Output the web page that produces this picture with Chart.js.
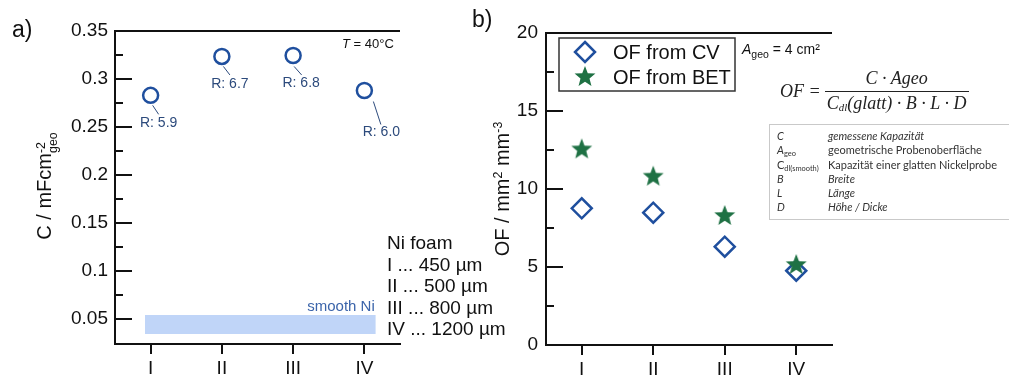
<!DOCTYPE html>
<html>
<head>
<meta charset="utf-8">
<script src="https://cdn.jsdelivr.net/npm/chart.js@4.4.1/dist/chart.umd.min.js"></script>
<style>
  html,body{margin:0;padding:0;background:#fff;}
  #wrap{position:relative;width:1009px;height:378px;overflow:hidden;font-family:"Liberation Sans",Arial,sans-serif;color:#111;}
  canvas{position:absolute;left:0;top:0;}
  .t{position:absolute;white-space:nowrap;line-height:1;}
  .ytitle{position:absolute;white-space:nowrap;font-size:20px;line-height:1;transform:translate(-50%,-50%) rotate(-90deg);}
  .ss{display:inline-block;font-size:0.62em;line-height:0.95em;vertical-align:-0.5em;text-align:left;}
  .ss span{display:block;}
  #nilist{position:absolute;left:387px;top:232px;font-size:19px;line-height:21.5px;white-space:nowrap;}
  #frac{position:absolute;left:780px;top:68px;display:flex;align-items:center;font-family:"Liberation Serif",serif;font-style:italic;font-size:18px;color:#222;}
  #frac .fr{display:flex;flex-direction:column;align-items:center;margin-left:4px;}
  #frac .num{padding:0 2px 2px 2px;border-bottom:1.3px solid #222;text-align:center;width:140px;}
  #frac .den{padding-top:1px;}
  #frac sub{font-size:0.6em;vertical-align:-0.2em;}
  #tbl{position:absolute;left:769px;top:124px;width:260px;height:94px;border:1px solid #c9c9c9;font-family:Lato,"Noto Sans",sans-serif;font-size:11px;color:#333;}
  #tbl table{border-collapse:collapse;margin:4px 0 0 7px;}
  #tbl td{padding:0;height:14.3px;line-height:14.3px;white-space:nowrap;}
  #tbl td.k{width:51px;}
  #tbl sub{font-size:0.68em;vertical-align:-0.25em;line-height:0;}
</style>
</head>
<body>
<div id="wrap">
  <canvas id="cA" width="1009" height="378"></canvas>
  <canvas id="cB" width="1009" height="378"></canvas>

  <div class="t" style="left:12px;top:18px;font-size:23px;">a)</div>
  <div class="t" style="left:472px;top:8px;font-size:23px;">b)</div>

  <div class="ytitle" style="left:47px;top:186px;">C / mFcm<span class="ss"><span>-2</span><span>geo</span></span></div>
  <div class="ytitle" style="left:502px;top:189px;">OF / mm<sup style="font-size:0.62em;vertical-align:0.55em;line-height:0">2</sup> mm<sup style="font-size:0.62em;vertical-align:0.55em;line-height:0">-3</sup></div>

  <div class="t" style="left:342px;top:37px;font-size:13px;"><i>T</i> = 40°C</div>

  <div id="nilist">Ni foam<br>I ... 450 µm<br>II ... 500 µm<br>III ... 800 µm<br>IV ... 1200 µm</div>

  <div class="t" style="left:742px;top:42px;font-size:14px;"><i>A</i><sub style="font-size:0.75em">geo</sub> = 4 cm²</div>

  <div id="frac"><span>OF =</span><span class="fr"><span class="num">C · Ageo</span><span class="den">C<sub>dl</sub>(glatt) · B · L · D</span></span></div>

  <div id="tbl"><table>
    <tr><td class="k"><i>C</i></td><td><i>gemessene Kapazität</i></td></tr>
    <tr><td class="k"><i>A</i><sub>geo</sub></td><td>geometrische Probenoberfläche</td></tr>
    <tr><td class="k">C<sub>dl(smooth)</sub></td><td>Kapazität einer glatten Nickelprobe</td></tr>
    <tr><td class="k"><i>B</i></td><td><i>Breite</i></td></tr>
    <tr><td class="k"><i>L</i></td><td><i>Länge</i></td></tr>
    <tr><td class="k"><i>D</i></td><td><i>Höhe / Dicke</i></td></tr>
  </table></div>
</div>

<script>
// categories / values
const catLabels = ["I", "II", "III", "IV"];
const catPos = [1, 2, 3, 4];

const capC = [0.283, 0.3235, 0.3245, 0.288];
const rLabels = ["R: 5.9", "R: 6.7", "R: 6.8", "R: 6.0"];
const bandX = [0.92, 4.16];
const bandY = [0.0344, 0.0542];
const cTicks = [0.05, 0.1, 0.15, 0.2, 0.25, 0.3, 0.35];
const cMinor = [0.075, 0.125, 0.175, 0.225, 0.275, 0.325];

const ofCV = [8.76, 8.48, 6.30, 4.76];
const ofBET = [12.54, 10.79, 8.27, 5.13];
const ofTicks = [0, 5, 10, 15, 20];
const ofMinor = [2.5, 7.5, 12.5, 17.5];

const BLUE = "#1f4f9e";
const GREEN = "#1f7144";
const SANS = "'Liberation Sans', Arial, sans-serif";
const tickFont = {family: SANS, size: 19};

function makeStar(R, color){
  const s = Math.ceil(R*2) + 2;
  const c = document.createElement("canvas");
  c.width = s; c.height = s;
  const g = c.getContext("2d");
  g.fillStyle = color;
  g.beginPath();
  for(let i=0;i<10;i++){
    const r = i%2 ? R*0.43 : R;
    const a = -Math.PI/2 + i*Math.PI/5;
    g.lineTo(s/2 + r*Math.cos(a), s/2 + r*Math.sin(a));
  }
  g.closePath(); g.fill();
  return c;
}
const starImg = makeStar(11, GREEN);

// top frame line + inward y ticks
const frame = {
  id: "frame",
  afterDraw(chart, args, o){
    const {ctx, chartArea:a} = chart;
    const y = chart.scales.y;
    ctx.save();
    ctx.strokeStyle = "#111"; ctx.lineWidth = 2;
    ctx.beginPath();
    ctx.moveTo(a.left-1, a.top); ctx.lineTo(a.right, a.top);
    o.major.forEach(v=>{ const p=y.getPixelForValue(v); ctx.moveTo(a.left, p); ctx.lineTo(a.left+17, p); });
    o.minor.forEach(v=>{ const p=y.getPixelForValue(v); ctx.moveTo(a.left, p); ctx.lineTo(a.left+8, p); });
    ctx.stroke();
    ctx.restore();
  }
};

// R labels with leader lines, "smooth Ni"
const labelOffsets = [
  {l0:[2,10], l1:[8,19], t:[8,28]},
  {l0:[1.5,10], l1:[8,18.5], t:[8,27.5]},
  {l0:[1,11], l1:[8.5,19.5], t:[8,28]},
  {l0:[9,11], l1:[16.5,34], t:[17,42]}
];
const notesA = {
  id: "notesA",
  afterDatasetsDraw(chart){
    const {ctx} = chart;
    const meta = chart.getDatasetMeta(0);
    ctx.save();
    ctx.strokeStyle = "#2c4a7c"; ctx.fillStyle = "#2c4a7c"; ctx.lineWidth = 1;
    ctx.font = "14px " + SANS;
    ctx.textAlign = "center"; ctx.textBaseline = "middle";
    meta.data.forEach((pt,i)=>{
      const o = labelOffsets[i];
      ctx.beginPath();
      ctx.moveTo(pt.x+o.l0[0], pt.y+o.l0[1]);
      ctx.lineTo(pt.x+o.l1[0], pt.y+o.l1[1]);
      ctx.stroke();
      ctx.fillText(rLabels[i], pt.x+o.t[0], pt.y+o.t[1]);
    });
    const xs = chart.scales.x, ys = chart.scales.y;
    ctx.fillStyle = "#3b64aa";
    ctx.font = "15px " + SANS;
    ctx.textAlign = "right";
    ctx.fillText("smooth Ni", xs.getPixelForValue(bandX[1]) - 1, ys.getPixelForValue(bandY[1]) - 8);
    ctx.restore();
  }
};

// legend box for panel b
const legendB = {
  id: "legendB",
  afterDraw(chart){
    const {ctx, chartArea:a} = chart;
    const x0 = a.left + 13, y0 = a.top + 5;
    ctx.save();
    ctx.strokeStyle = "#333"; ctx.lineWidth = 1.5;
    ctx.strokeRect(x0, y0, 176, 53);
    const mx = x0 + 26;
    ctx.strokeStyle = BLUE; ctx.lineWidth = 2.5;
    ctx.beginPath();
    ctx.moveTo(mx, y0+14-10); ctx.lineTo(mx+10, y0+14); ctx.lineTo(mx, y0+14+10); ctx.lineTo(mx-10, y0+14); ctx.closePath();
    ctx.stroke();
    ctx.drawImage(starImg, mx - starImg.width/2, y0+39 - starImg.height/2);
    ctx.fillStyle = "#111";
    ctx.font = "20px " + SANS;
    ctx.textBaseline = "middle";
    ctx.fillText("OF from CV", x0+54, y0+15);
    ctx.fillText("OF from BET", x0+54, y0+40);
    ctx.restore();
  }
};

function xScale(h){
  return {
    type: "linear", min: 0.5, max: 4.5,
    afterBuildTicks: s => { s.ticks = catPos.map(v=>({value:v})); },
    afterFit: s => { s.height = h; },
    ticks: {callback: v => catLabels[catPos.indexOf(v)], font: tickFont, color: "#111", padding: 3, maxRotation: 0, autoSkip: false},
    grid: {display: true, drawOnChartArea: false, drawTicks: true, tickLength: 10, color: "#111", lineWidth: 2},
    border: {display: true, color: "#111", width: 2}
  };
}
function yScale(min, max, ticks, w, pad){
  return {
    min, max,
    afterBuildTicks: s => { s.ticks = ticks.map(v=>({value:v})); },
    afterFit: s => { s.width = w; },
    ticks: {callback: v => String(v), font: tickFont, color: "#111", padding: pad},
    grid: {display: false, drawTicks: false},
    border: {display: true, color: "#111", width: 2}
  };
}

new Chart(document.getElementById("cA"), {
  type: "line",
  data: {
    datasets: [
      {data: catPos.map((x,i)=>({x, y: capC[i]})), showLine: false, pointRadius: 7.5, pointHoverRadius: 7.5,
       pointBorderWidth: 2.5, pointBorderColor: BLUE, pointBackgroundColor: "rgba(255,255,255,0)"},
      {data: bandX.map(x=>({x, y: bandY[1]})), pointRadius: 0, borderColor: "rgba(0,0,0,0)", fill: false},
      {data: bandX.map(x=>({x, y: bandY[0]})), pointRadius: 0, borderColor: "rgba(0,0,0,0)", fill: 1, backgroundColor: "#c0d5f8"}
    ]
  },
  options: {
    responsive: false, animation: false, events: [],
    layout: {autoPadding: false, padding: {left: 0, top: 31, right: 609, bottom: 0}},
    plugins: {legend: {display: false}, tooltip: {enabled: false}, frame: {major: cTicks, minor: cMinor}},
    scales: {x: xScale(34), y: yScale(0.024, 0.35, cTicks, 115, 7)}
  },
  plugins: [frame, notesA]
});

new Chart(document.getElementById("cB"), {
  type: "line",
  data: {
    datasets: [
      {data: catPos.map((x,i)=>({x, y: ofCV[i]})), showLine: false, order: 2, pointStyle: "rectRot",
       pointRadius: 10, pointHoverRadius: 10, pointBorderWidth: 2.5, pointBorderColor: BLUE, pointBackgroundColor: "rgba(255,255,255,0)"},
      {data: catPos.map((x,i)=>({x, y: ofBET[i]})), showLine: false, order: 1, pointStyle: starImg, pointRadius: 11}
    ]
  },
  options: {
    responsive: false, animation: false, events: [],
    layout: {autoPadding: false, padding: {left: 0, top: 33, right: 177, bottom: 0}},
    plugins: {legend: {display: false}, tooltip: {enabled: false}, frame: {major: ofTicks, minor: ofMinor}},
    scales: {x: xScale(33), y: yScale(0, 20, ofTicks, 546, 8)}
  },
  plugins: [frame, legendB]
});
</script>
</body>
</html>
